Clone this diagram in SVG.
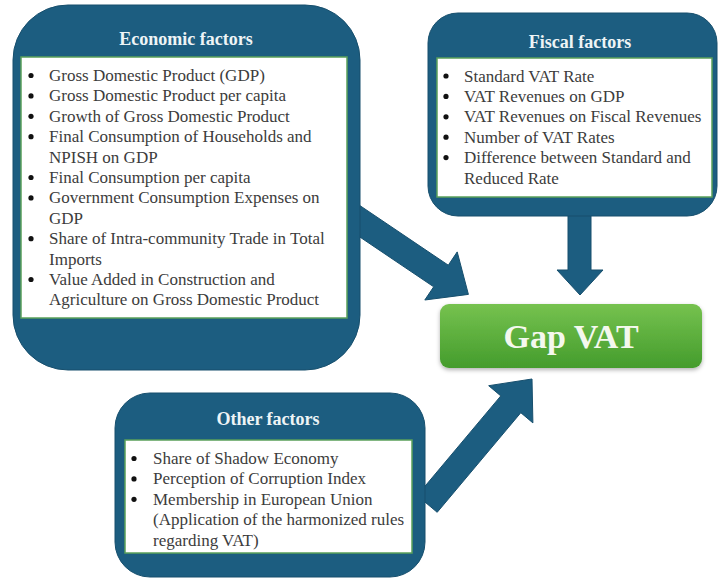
<svg xmlns="http://www.w3.org/2000/svg" width="722" height="579" viewBox="0 0 722 579">
  <defs>
    <linearGradient id="greenFill" x1="0" y1="0" x2="0" y2="1">
      <stop offset="0" stop-color="#76c24f"/>
      <stop offset="1" stop-color="#449c2c"/>
    </linearGradient>
    <filter id="soft" x="-10%" y="-10%" width="120%" height="130%">
      <feDropShadow dx="0" dy="2" stdDeviation="2" flood-color="#000" flood-opacity="0.3"/>
    </filter>
  </defs>
  <style>
    .panel { fill: #1c5d80; stroke: #174f6d; stroke-width: 1; }
    .card { fill: #ffffff; stroke: #5aa05a; stroke-width: 1.5; }
    .title { font-family: "Liberation Serif", "Times New Roman", serif; font-weight: bold; font-size: 18px; fill: #eef4f6; text-anchor: middle; }
    .item { font-family: "Liberation Serif", "Times New Roman", serif; font-size: 17px; fill: #3c3c3c; }
    .dot { fill: #111; }
    .arrow { fill: #1c5d80; stroke: #174f6d; stroke-width: 1; }
    .goal { font-family: "Liberation Serif", "Times New Roman", serif; font-weight: bold; font-size: 34px; fill: #f4f8ee; text-anchor: middle; }
  </style>

  <!-- connectors: block arrows into the result box -->
  <g id="connectors">
    <path class="arrow" d="M342.5,225.3 L357.1,203.7 L448.3,265.2 L457.2,251.9 L468.4,294.4 L424.8,300 L433.7,286.8 Z"/>
    <path class="arrow" d="M568,214 L591,214 L591,270 L603,270 L580,295 L557,270 L568,270 Z"/>
    <path class="arrow" d="M417.2,495.5 L437.2,512.3 L520.8,412.7 L532.9,422.9 L532,379 L488.7,385.7 L500.8,395.9 Z"/>
  </g>

  <g id="economic">
    <rect class="panel" x="13" y="5" width="347" height="365" rx="55" ry="55"/>
    <rect class="card" x="21" y="57" width="326" height="261"/>
    <text class="title" x="186" y="45">Economic factors</text>
    <g class="dot">
      <circle cx="31" cy="75.5" r="2.6"/>
      <circle cx="31" cy="95.9" r="2.6"/>
      <circle cx="31" cy="116.3" r="2.6"/>
      <circle cx="31" cy="136.7" r="2.6"/>
      <circle cx="31" cy="177.5" r="2.6"/>
      <circle cx="31" cy="197.9" r="2.6"/>
      <circle cx="31" cy="238.7" r="2.6"/>
      <circle cx="31" cy="279.5" r="2.6"/>
    </g>
    <text class="item" x="49" y="81">Gross Domestic Product (GDP)</text>
    <text class="item" x="49" y="101.4">Gross Domestic Product per capita</text>
    <text class="item" x="49" y="121.8">Growth of Gross Domestic Product</text>
    <text class="item" x="49" y="142.2">Final Consumption of Households and</text>
    <text class="item" x="49" y="162.6">NPISH on GDP</text>
    <text class="item" x="49" y="183">Final Consumption per capita</text>
    <text class="item" x="49" y="203.4">Government Consumption Expenses on</text>
    <text class="item" x="49" y="223.8">GDP</text>
    <text class="item" x="49" y="244.2">Share of Intra-community Trade in Total</text>
    <text class="item" x="49" y="264.6">Imports</text>
    <text class="item" x="49" y="285">Value Added in Construction and</text>
    <text class="item" x="49" y="305.4">Agriculture on Gross Domestic Product</text>
  </g>

  <g id="fiscal">
    <rect class="panel" x="428" y="13" width="289" height="203" rx="30" ry="30"/>
    <rect class="card" x="437" y="58" width="275" height="139"/>
    <text class="title" x="580" y="48">Fiscal factors</text>
    <g class="dot">
      <circle cx="446" cy="76" r="2.6"/>
      <circle cx="446" cy="96.4" r="2.6"/>
      <circle cx="446" cy="116.8" r="2.6"/>
      <circle cx="446" cy="137.2" r="2.6"/>
      <circle cx="446" cy="157.6" r="2.6"/>
    </g>
    <text class="item" x="464" y="81.5">Standard VAT Rate</text>
    <text class="item" x="464" y="101.9">VAT Revenues on GDP</text>
    <text class="item" x="464" y="122.3">VAT Revenues on Fiscal Revenues</text>
    <text class="item" x="464" y="142.7">Number of VAT Rates</text>
    <text class="item" x="464" y="163.1">Difference between Standard and</text>
    <text class="item" x="464" y="183.5">Reduced Rate</text>
  </g>

  <g id="other">
    <rect class="panel" x="115" y="393" width="310" height="184" rx="35" ry="35"/>
    <rect class="card" x="125" y="440" width="287" height="113"/>
    <text class="title" x="268" y="425">Other factors</text>
    <g class="dot">
      <circle cx="134" cy="458.5" r="2.6"/>
      <circle cx="134" cy="478.9" r="2.6"/>
      <circle cx="134" cy="499.3" r="2.6"/>
    </g>
    <text class="item" x="153" y="464">Share of Shadow Economy</text>
    <text class="item" x="153" y="484.4">Perception of Corruption Index</text>
    <text class="item" x="153" y="504.8">Membership in European Union</text>
    <text class="item" x="153" y="525.2">(Application of the harmonized rules</text>
    <text class="item" x="153" y="545.6">regarding VAT)</text>
  </g>

  <g id="gap-vat">
    <rect x="440" y="304" width="262" height="64" rx="9" ry="9" fill="url(#greenFill)" filter="url(#soft)"/>
    <text class="goal" x="571" y="348">Gap VAT</text>
  </g>
</svg>
